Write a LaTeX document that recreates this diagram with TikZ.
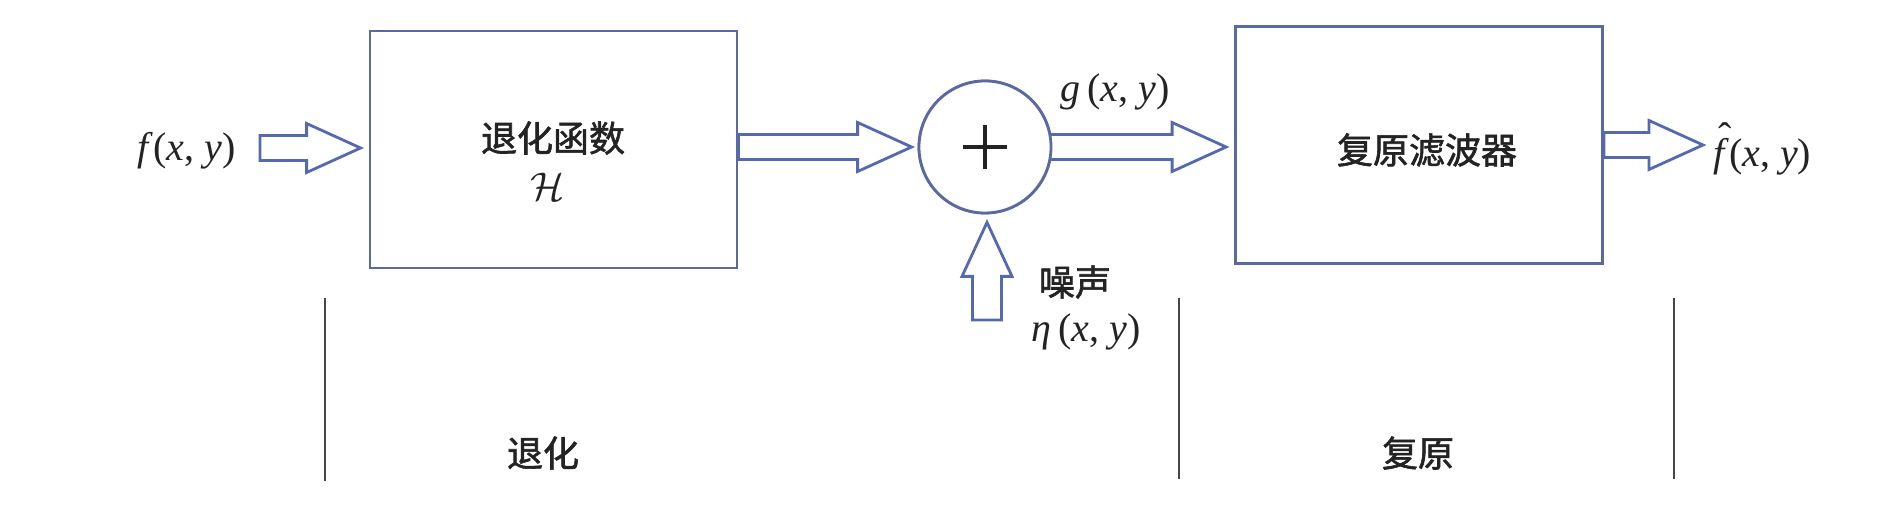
\RequirePackage{fix-cm}
\documentclass[tikz,border=0pt]{standalone}
\usepackage{fontspec}
\setmainfont{Liberation Serif}
\newfontfamily\cjk[FakeBold=1.6]{Noto Sans CJK SC}
\usetikzlibrary{calc}
\definecolor{boxc}{RGB}{90,105,160}
\definecolor{arrc}{RGB}{85,105,175}
\definecolor{linec}{RGB}{70,70,70}
\definecolor{txtc}{RGB}{35,35,35}
\newcommand{\myxy}{(\textit{x}, \textit{y})}
\newcommand{\myfhat}{\makebox[0pt][l]{\hspace{0.12em}\raisebox{0.38em}{ˆ}}\textit{f}}
% horizontal block arrow: #1 tail, #2 target, #3 gap before target
\newcommand{\myharrow}[3]{%
  \draw[barrow] let \p1=#1, \p2=#2 in
    (\x1,\y1+6.25pt) -- (\x2-#3-27pt,\y1+6.25pt) -- (\x2-#3-27pt,\y1+12.25pt)
    -- (\x2-#3,\y1) -- (\x2-#3-27pt,\y1-12.25pt) -- (\x2-#3-27pt,\y1-6.25pt)
    -- (\x1,\y1-6.25pt) -- cycle;}
% vertical (upward) block arrow
\newcommand{\myvarrow}[3]{%
  \draw[barrow] let \p1=#1, \p2=#2 in
    (\x1-7.25pt,\y1) -- (\x1-7.25pt,\y2-#3-27pt) -- (\x1-12.5pt,\y2-#3-27pt)
    -- (\x1,\y2-#3) -- (\x1+12.5pt,\y2-#3-27pt) -- (\x1+7.25pt,\y2-#3-27pt)
    -- (\x1+7.25pt,\y1) -- cycle;}
\begin{document}
\begin{tikzpicture}[x=0.5pt,y=-0.5pt,
  blk/.style={draw=boxc,line width=1.4pt,minimum width=183.5pt,minimum height=118.5pt,inner sep=0pt},
  sumc/.style={circle,draw=boxc,fill=white,line width=1.4pt,minimum size=66pt,inner sep=0pt},
  barrow/.style={draw=arrc,fill=white,line width=1.4pt,line join=miter},
  divider/.style={draw=linec,line width=1.4pt},
  cn/.style={font=\cjk\fontsize{18}{22}\selectfont,text=txtc,inner sep=0pt},
  mt/.style={font=\fontsize{20}{24}\selectfont,text=txtc,inner sep=0pt},
  plusline/.style={draw=txtc,line width=2.2pt}]
\useasboundingbox (0,0) rectangle (1904,517);
\fill[white] (0,0) rectangle (1904,517);

% blocks
\node[blk] (box1) at (553.5,149.5) {};
\node[blk] (box2) at (1419,145) {};
\node[sumc] (sum) at (985,147) {};

% texts
\node[cn] (t1) at (553,138) {退化函数};
\node[mt] (t2) at (548,187) {$\mathcal{H}$};
\node[cn] (t3) at (1427,150) {复原滤波器};
\node[mt,anchor=east] (fin) at (236,151) {\textit{f}\myxy};
\node[mt,anchor=west] (fout) at (1713,149) {\myfhat\myxy};
\node[mt] (glab) at (1115,92) {\textit{g}\,\myxy};
\node[cn] (noise) at (1075,282) {噪声};
\node[mt] (eta) at (1086,332) {\textit{η}\,\myxy};
\node[cn] (deg) at (543,453) {退化};
\node[cn] (res) at (1418,453) {复原};

% free ends
\coordinate (in) at (260,148);
\coordinate (nz) at (987,320);

% block arrows
\myharrow{(in)}{(box1.west)}{4pt}
\myharrow{(box1.east |- sum.center)}{(sum.west)}{3pt}
\myharrow{(sum.center)}{(box2.west)}{4pt}
\myharrow{(box2.east)}{(fout.west)}{5pt}
\myvarrow{(nz)}{(sum.south)}{4pt}

% redraw summing junction over the arrow tail
\draw[draw=boxc,fill=white,line width=1.4pt] (sum.center) circle[radius=33pt];
\draw[plusline] ($(sum.center)+(-22,0)$) -- ($(sum.center)+(22,0)$);
\draw[plusline] ($(sum.center)+(0,-22)$) -- ($(sum.center)+(0,22)$);

% dividers
\coordinate (d1t) at (325,298); \coordinate (d1b) at (325,481);
\coordinate (d2t) at (1179,298); \coordinate (d2b) at (1179,479);
\coordinate (d3t) at (1674,298); \coordinate (d3b) at (1674,479);
\draw[divider] (d1t) -- (d1b);
\draw[divider] (d2t) -- (d2b);
\draw[divider] (d3t) -- (d3b);
\end{tikzpicture}
\end{document}
